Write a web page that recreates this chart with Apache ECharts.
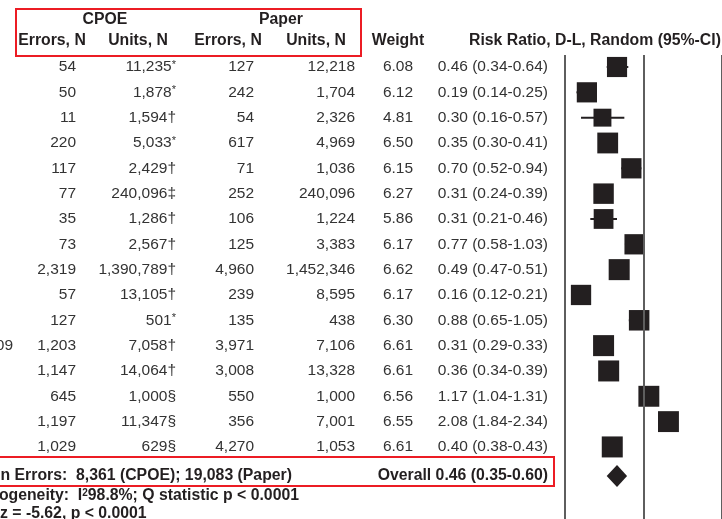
<!DOCTYPE html>
<html><head><meta charset="utf-8">
<script src="https://cdn.jsdelivr.net/npm/echarts@6/dist/echarts.min.js"></script>
<style>html,body{margin:0;padding:0;background:#fff}#c{width:722px;height:519px}</style>
</head><body><div id="c"></div>
<script>
// ---- data ----
const studyTail   = ['','','','','','','','','','','','09','','','',''];
const cpoeErrors  = ['54','50','11','220','117','77','35','73','2,319','57','127','1,203','1,147','645','1,197','1,029'];
const cpoeUnits   = ['11,235','1,878','1,594','5,033','2,429','240,096','1,286','2,567','1,390,789','13,105','501','7,058','14,064','1,000','11,347','629'];
const cpoeMarks   = ['*','*','†','*','†','‡','†','†','†','†','*','†','†','§','§','§'];
const paperErrors = ['127','242','54','617','71','252','106','125','4,960','239','135','3,971','3,008','550','356','4,270'];
const paperUnits  = ['12,218','1,704','2,326','4,969','1,036','240,096','1,224','3,383','1,452,346','8,595','438','7,106','13,328','1,000','7,001','1,053'];
const weights     = [6.08,6.12,4.81,6.50,6.15,6.27,5.86,6.17,6.62,6.17,6.30,6.61,6.61,6.56,6.55,6.61];
const rr          = [0.46,0.19,0.30,0.35,0.70,0.31,0.31,0.77,0.49,0.16,0.88,0.31,0.36,1.17,2.08,0.40];
const lo          = [0.34,0.14,0.16,0.30,0.52,0.24,0.21,0.58,0.47,0.12,0.65,0.29,0.34,1.04,1.84,0.38];
const hi          = [0.64,0.25,0.57,0.41,0.94,0.39,0.46,1.03,0.51,0.21,1.05,0.33,0.39,1.31,2.34,0.43];
const overallRR = 0.46, overallLo = 0.35, overallHi = 0.60;
const axisRefLines = [0.1, 1, 10];
const headerTop = ['CPOE','Paper'];
const headerSub = ['Errors, N','Units, N','Errors, N','Units, N','Weight','Risk Ratio, D-L, Random (95%-CI)'];
const totalText = 'n Errors:  8,361 (CPOE); 19,083 (Paper)';
const hetText = 'ogeneity:  I{sup|2}98.8%; Q statistic p < 0.0001';
const zText = 'z = -5.62, p < 0.0001';

// ---- layout ----
const FONT = 'Liberation Sans, Arial, Helvetica, sans-serif';
const FS = 15.5, FSB = 15.8;
const TXT = '#333333', DARK = '#231f20', RED = '#ec1c24';
const OVERALL_Y = 16.15;
const rows = rr.map((v, i) => i);
const f2 = v => v.toFixed(2);

const chart = echarts.init(document.getElementById('c'));

function whisker(params, api) {
  const a = api.coord([api.value(0), api.value(2)]);
  const b = api.coord([api.value(1), api.value(2)]);
  return { type: 'line', shape: { x1: a[0], y1: a[1], x2: b[0], y2: b[1] },
           style: { stroke: DARK, lineWidth: 2 } };
}
function diamond(params, api) {
  const l = api.coord([api.value(0), api.value(2)]);
  const r = api.coord([api.value(1), api.value(2)]);
  const c = api.coord([api.value(3), api.value(2)]);
  const h = 11;
  return { type: 'polygon', shape: { points: [[l[0] - 1, c[1]], [c[0], c[1] - h], [r[0] + 1, c[1]], [c[0], c[1] + h]] },
           style: { fill: DARK } };
}
function txt(x, y, text, align, bold, rich) {
  return { type: 'text', x: x, y: y,
    style: { text: text, align: align, verticalAlign: 'middle', fontFamily: FONT, fontSize: bold ? FSB : FS,
             fontWeight: bold ? 'bold' : 'normal', fill: bold ? DARK : TXT, rich: rich || {} } };
}
const markRich = { s: { fontSize: 11, fontFamily: FONT, fill: TXT, verticalAlign: 'top', lineHeight: 12 } };
function rowText(params, api) {
  const i = api.value(1);
  const y = api.coord([1, i])[1];
  const mk = cpoeMarks[i] === '*' ? '{s|*}' : cpoeMarks[i];
  return { type: 'group', children: [
    txt(13, y, studyTail[i], 'right'),
    txt(76, y, cpoeErrors[i], 'right'),
    txt(176, y, cpoeUnits[i] + mk, 'right', false, markRich),
    txt(254, y, paperErrors[i], 'right'),
    txt(355, y, paperUnits[i], 'right'),
    txt(398, y, f2(weights[i]), 'center'),
    txt(548, y, f2(rr[i]) + ' (' + f2(lo[i]) + '-' + f2(hi[i]) + ')', 'right')
  ]};
}
function overallText(params, api) {
  const y = api.coord([1, api.value(1)])[1];
  return txt(548, y, 'Overall ' + f2(overallRR) + ' (' + f2(overallLo) + '-' + f2(overallHi) + ')', 'right', true);
}
function gText(x, y, text, align, rich) {
  return { type: 'text', x: x, y: y, z: 10,
    style: { text: text, align: align, verticalAlign: 'middle', fontFamily: FONT, fontSize: FSB,
             fontWeight: 'bold', fill: DARK, rich: rich || {} } };
}

chart.setOption({
  animation: false,
  backgroundColor: '#fff',
  grid: { left: 565, right: 0, top: 55, bottom: 0 },
  xAxis: { type: 'log', logBase: 10, min: 0.1, max: 10, show: false },
  yAxis: { type: 'value', inverse: true, min: -0.4737, max: 17.845, show: false },
  graphic: [
    { type: 'rect', shape: { x: 16, y: 9, width: 345, height: 47 }, style: { fill: 'none', stroke: RED, lineWidth: 2 } },
    { type: 'rect', shape: { x: -5, y: 457, width: 559, height: 29 }, style: { fill: 'none', stroke: RED, lineWidth: 2 } },
    gText(105, 20, headerTop[0], 'center'),
    gText(281, 20, headerTop[1], 'center'),
    gText(52, 41, headerSub[0], 'center'),
    gText(138, 41, headerSub[1], 'center'),
    gText(228, 41, headerSub[2], 'center'),
    gText(316, 41, headerSub[3], 'center'),
    gText(398, 41, headerSub[4], 'center'),
    gText(469, 41, headerSub[5], 'left'),
    gText(292, 476, totalText, 'right'),
    gText(299, 496, hetText, 'right', { sup: { fontSize: 10, fontWeight: 'bold', fontFamily: FONT, fill: DARK, verticalAlign: 'top', lineHeight: 10 } }),
    gText(0, 514, zText, 'left')
  ],
  series: [
    { type: 'custom', renderItem: whisker, encode: { x: [0, 1], y: 2 },
      data: rows.map(i => [lo[i], hi[i], i]), z: 2, silent: true },
    { type: 'scatter', symbol: 'rect', z: 3, silent: true,
      data: rows.map(i => [rr[i], i, weights[i]]),
      symbolSize: v => 20.5 * Math.sqrt(v[2] / 6.3),
      itemStyle: { color: DARK, opacity: 1 },
      markLine: { symbol: 'none', silent: true, label: { show: false },
        lineStyle: { color: '#5e5e5e', width: 2, type: 'solid' },
        data: axisRefLines.map(v => ({ xAxis: v })) } },
    { type: 'custom', renderItem: diamond, encode: { x: [0, 1], y: 2 },
      data: [[overallLo, overallHi, OVERALL_Y, overallRR]], z: 3, silent: true },
    { type: 'custom', renderItem: rowText, data: rows.map(i => [1, i]), silent: true, clip: false },
    { type: 'custom', renderItem: overallText, data: [[1, OVERALL_Y]], silent: true, clip: false }
  ]
});
</script></body></html>
